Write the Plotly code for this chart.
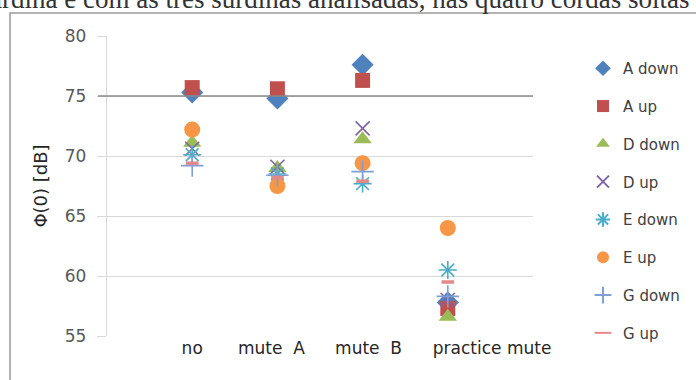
import plotly.graph_objects as go

# ---- data ----
conditions = ["no", "mute\u00a0\u00a0A", "mute\u00a0\u00a0B", "practice mute"]
x_pos = [1, 2, 3, 4]
tick_pos = [1.0, 1.93, 3.07, 4.52]

a_down = [75.3, 74.8, 77.6, 57.8]
a_up   = [75.7, 75.6, 76.3, 57.3]
d_down = [71.1, 69.0, 71.4, 56.6]
d_up   = [70.6, 69.1, 72.3, 58.0]
e_down = [70.1, 68.5, 67.7, 60.5]
e_up   = [72.2, 67.5, 69.4, 64.0]
g_down = [69.2, 68.4, 68.7, 58.3]
g_up   = [69.4, 68.2, 67.9, 59.5]

ref_level = 75
caption = "surdina e com as três surdinas analisadas, nas quatro cordas soltas"

series = [
    ("A down", a_down, "diamond", "#4F81BD", 17, 0),
    ("A up", a_up, "square", "#C0504D", 15, 0),
    ("D down", d_down, "triangle-up", "#9BBB59", 16, 0),
    ("D up", d_up, "x-thin-open", "#8064A2", 14, 1.6),
    ("E down", e_down, "asterisk-open", "#4BACC6", 15, 1.6),
    ("E up", e_up, "circle", "#F79646", 16, 0),
    ("G down", g_down, "cross-thin-open", "#7F9FD6", 16, 1.6),
    ("G up", g_up, "line-ew-open", "#E3898A", 9, 3.5),
]

L, R, T, B = 107, 163, 36, 44
W, H = 696, 380
pw, ph = W - L - R, H - T - B

fig = go.Figure()
for i, (name, vals, sym, col, size, lw) in enumerate(series):
    marker = dict(symbol=sym, color=col, size=size)
    if lw:
        marker["line"] = dict(color=col, width=lw)
    else:
        marker["line"] = dict(width=0)
    fig.add_trace(go.Scatter(x=x_pos, y=vals, mode="markers", name=name,
                             marker=marker, legendgroup=f"g{i}"))

fig.add_shape(type="line", xref="paper", yref="y", x0=-9 / pw, x1=1,
              y0=ref_level, y1=ref_level, line=dict(color="#8a8a8a", width=1.5))

# chart border
fig.add_shape(type="rect", xref="paper", yref="paper",
              x0=(10 - L) / pw, x1=(720 - L) / pw,
              y0=-(400 - T - ph) / ph, y1=1 + (T - 13) / ph,
              line=dict(color="#9a9a9a", width=1.5), layer="below")

fig.add_annotation(text=caption, xref="paper", yref="paper",
                   x=(692 - L) / pw, y=1 + (T + 1) / ph, xanchor="right", yanchor="middle",
                   showarrow=False, font=dict(family="Liberation Serif", size=27, color="#333333"))

font_main = "DejaVu Sans"
fig.update_layout(
    width=W, height=H,
    margin=dict(l=L, r=R, t=T, b=B, pad=0, autoexpand=False),
    paper_bgcolor="white", plot_bgcolor="white",
    showlegend=True,
    legend=dict(x=(583 - L) / pw, y=1 - (52 - T) / ph, xanchor="left", yanchor="top",
                font=dict(family=font_main, size=15, color="#404040"),
                traceorder="grouped", tracegroupgap=15.3, itemsizing="constant",
                bgcolor="rgba(0,0,0,0)"),
    xaxis=dict(range=[0, 5], tickvals=tick_pos, ticktext=conditions,
               showgrid=False, zeroline=False, showline=False, ticks="",
               automargin=False,
               tickfont=dict(family=font_main, size=17, color="#262626")),
    yaxis=dict(range=[55, 80], dtick=5, tick0=55, showgrid=True, gridcolor="#d9d9d9",
               gridwidth=1.3, zeroline=False, showline=True, linecolor="#d9d9d9",
               linewidth=1.3, ticks="outside", ticklen=9, tickcolor="#d9d9d9",
               tickwidth=1.3, ticklabelstandoff=7, automargin=False,
               tickfont=dict(family=font_main, size=17, color="#595959"),
               title=dict(text="Φ(0) [dB]", standoff=12,
                          font=dict(family=font_main, size=18, color="#262626"))),
)

fig.write_html("out.html", config={"displayModeBar": False},
               post_script="document.body.style.margin='0';document.body.style.padding='0';")
